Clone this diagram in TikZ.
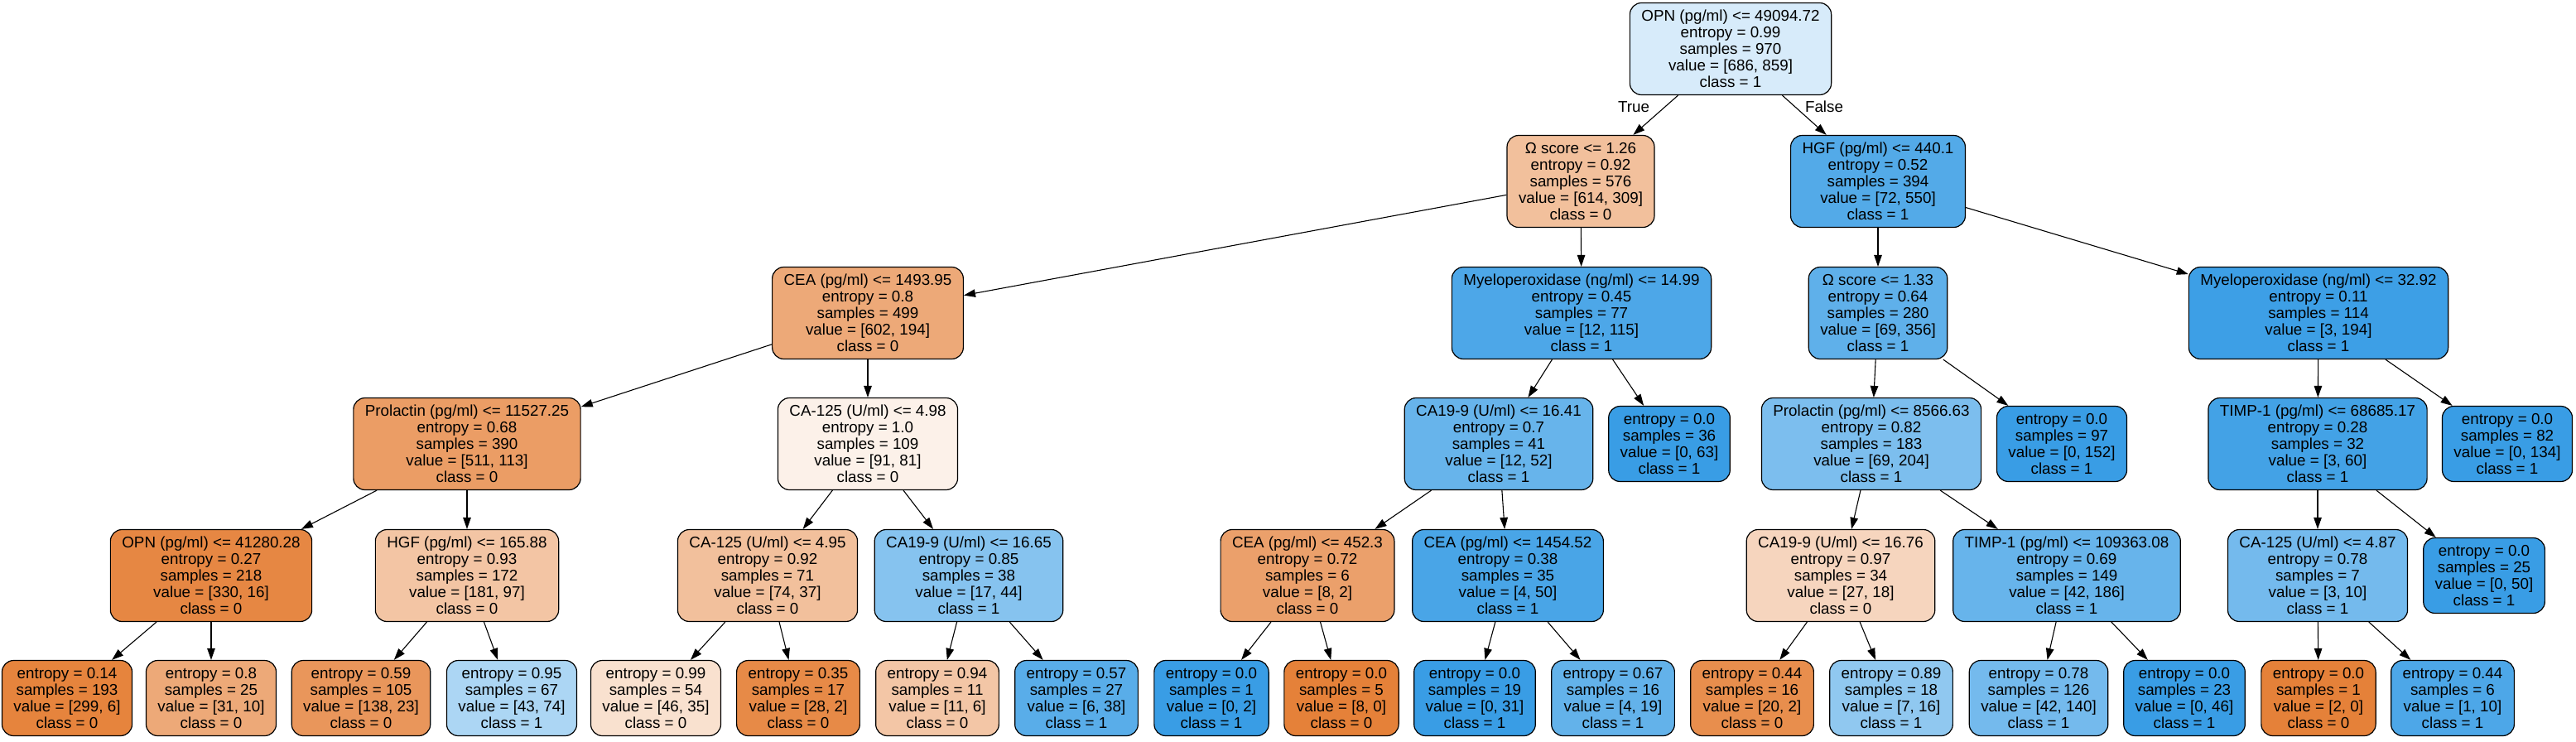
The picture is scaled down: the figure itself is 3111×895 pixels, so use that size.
\documentclass[tikz,border=0pt]{standalone}
\usepackage{fontspec}
\setmainfont{Liberation Sans}
\usetikzlibrary{arrows.meta}

\definecolor{cls0}{RGB}{229,129,57}
\definecolor{cls1}{RGB}{57,157,229}

\begin{document}
\begin{tikzpicture}[
  x=1pt, y=-1pt,
  tnode/.style={draw, line width=1.2pt, rounded corners=14pt, align=center,
    inner xsep=14pt, inner ysep=0pt, font=\fontsize{18.8}{20}\selectfont},
  split/.style={tnode, minimum height=111pt},
  leaf/.style={tnode, minimum height=91pt},
  lbl/.style={font=\fontsize{18.8}{20}\selectfont, inner sep=0pt},
  edge/.style={line width=1.1pt, -{Triangle[length=14pt, width=9.5pt]}}
]
\useasboundingbox (0,0) rectangle (3111,895);

% level 0 and 1
\node[split, fill=cls1!20] (root) at (2090,59) {OPN (pg/ml) <= 49094.72\\entropy = 0.99\\samples = 970\\value = [686, 859]\\class = 1};
\node[split, fill=cls0!50] (omegaA) at (1909,219) {Ω score <= 1.26\\entropy = 0.92\\samples = 576\\value = [614, 309]\\class = 0};
\node[split, fill=cls1!87] (hgfA) at (2268,219) {HGF (pg/ml) <= 440.1\\entropy = 0.52\\samples = 394\\value = [72, 550]\\class = 1};
\node[lbl] (truelbl) at (1973,129) {True};
\node[lbl] (falselbl) at (2203,129) {False};

% level 2
\node[split, fill=cls0!68] (ceaA) at (1048,378) {CEA (pg/ml) <= 1493.95\\entropy = 0.8\\samples = 499\\value = [602, 194]\\class = 0};
\node[split, fill=cls1!90] (myeloA) at (1910,378) {Myeloperoxidase (ng/ml) <= 14.99\\entropy = 0.45\\samples = 77\\value = [12, 115]\\class = 1};
\node[split, fill=cls1!81] (omegaB) at (2268,378) {Ω score <= 1.33\\entropy = 0.64\\samples = 280\\value = [69, 356]\\class = 1};
\node[split, fill=cls1!98] (myeloB) at (2800,378) {Myeloperoxidase (ng/ml) <= 32.92\\entropy = 0.11\\samples = 114\\value = [3, 194]\\class = 1};

% level 3
\node[split, fill=cls0!78] (prolA) at (564,536) {Prolactin (pg/ml) <= 11527.25\\entropy = 0.68\\samples = 390\\value = [511, 113]\\class = 0};
\node[split, fill=cls0!11] (caA) at (1048,536) {CA-125 (U/ml) <= 4.98\\entropy = 1.0\\samples = 109\\value = [91, 81]\\class = 0};
\node[split, fill=cls1!77] (cnA) at (1810,536) {CA19-9 (U/ml) <= 16.41\\entropy = 0.7\\samples = 41\\value = [12, 52]\\class = 1};
\node[leaf, fill=cls1] (leafA) at (2016,536) {entropy = 0.0\\samples = 36\\value = [0, 63]\\class = 1};
\node[split, fill=cls1!66] (prolB) at (2260,536) {Prolactin (pg/ml) <= 8566.63\\entropy = 0.82\\samples = 183\\value = [69, 204]\\class = 1};
\node[leaf, fill=cls1] (leafB) at (2490,536) {entropy = 0.0\\samples = 97\\value = [0, 152]\\class = 1};
\node[split, fill=cls1!95] (timpA) at (2799,536) {TIMP-1 (pg/ml) <= 68685.17\\entropy = 0.28\\samples = 32\\value = [3, 60]\\class = 1};
\node[leaf, fill=cls1] (leafC) at (3028,536) {entropy = 0.0\\samples = 82\\value = [0, 134]\\class = 1};

% level 4
\node[split, fill=cls0!95] (opnB) at (255,695) {OPN (pg/ml) <= 41280.28\\entropy = 0.27\\samples = 218\\value = [330, 16]\\class = 0};
\node[split, fill=cls0!46] (hgfB) at (564,695) {HGF (pg/ml) <= 165.88\\entropy = 0.93\\samples = 172\\value = [181, 97]\\class = 0};
\node[split, fill=cls0!50] (caB) at (927,695) {CA-125 (U/ml) <= 4.95\\entropy = 0.92\\samples = 71\\value = [74, 37]\\class = 0};
\node[split, fill=cls1!61] (cnB) at (1170,695) {CA19-9 (U/ml) <= 16.65\\entropy = 0.85\\samples = 38\\value = [17, 44]\\class = 1};
\node[split, fill=cls0!75] (ceaB) at (1579,695) {CEA (pg/ml) <= 452.3\\entropy = 0.72\\samples = 6\\value = [8, 2]\\class = 0};
\node[split, fill=cls1!92] (ceaC) at (1821,695) {CEA (pg/ml) <= 1454.52\\entropy = 0.38\\samples = 35\\value = [4, 50]\\class = 1};
\node[split, fill=cls0!33] (cnC) at (2223,695) {CA19-9 (U/ml) <= 16.76\\entropy = 0.97\\samples = 34\\value = [27, 18]\\class = 0};
\node[split, fill=cls1!77] (timpB) at (2496,695) {TIMP-1 (pg/ml) <= 109363.08\\entropy = 0.69\\samples = 149\\value = [42, 186]\\class = 1};
\node[split, fill=cls1!70] (caC) at (2799,695) {CA-125 (U/ml) <= 4.87\\entropy = 0.78\\samples = 7\\value = [3, 10]\\class = 1};
\node[leaf, fill=cls1] (leafD) at (3000,695) {entropy = 0.0\\samples = 25\\value = [0, 50]\\class = 1};

% level 5
\node[leaf, fill=cls0!98] (leaf1) at (81,843) {entropy = 0.14\\samples = 193\\value = [299, 6]\\class = 0};
\node[leaf, fill=cls0!68] (leaf2) at (255,843) {entropy = 0.8\\samples = 25\\value = [31, 10]\\class = 0};
\node[leaf, fill=cls0!83] (leaf3) at (436,843) {entropy = 0.59\\samples = 105\\value = [138, 23]\\class = 0};
\node[leaf, fill=cls1!42] (leaf4) at (618,843) {entropy = 0.95\\samples = 67\\value = [43, 74]\\class = 1};
\node[leaf, fill=cls0!24] (leaf5) at (792,843) {entropy = 0.99\\samples = 54\\value = [46, 35]\\class = 0};
\node[leaf, fill=cls0!93] (leaf6) at (964,843) {entropy = 0.35\\samples = 17\\value = [28, 2]\\class = 0};
\node[leaf, fill=cls0!45] (leaf7) at (1132,843) {entropy = 0.94\\samples = 11\\value = [11, 6]\\class = 0};
\node[leaf, fill=cls1!84] (leaf8) at (1300,843) {entropy = 0.57\\samples = 27\\value = [6, 38]\\class = 1};
\node[leaf, fill=cls1] (leaf9) at (1463,843) {entropy = 0.0\\samples = 1\\value = [0, 2]\\class = 1};
\node[leaf, fill=cls0] (leaf10) at (1620,843) {entropy = 0.0\\samples = 5\\value = [8, 0]\\class = 0};
\node[leaf, fill=cls1] (leaf11) at (1781,843) {entropy = 0.0\\samples = 19\\value = [0, 31]\\class = 1};
\node[leaf, fill=cls1!79] (leaf12) at (1948,843) {entropy = 0.67\\samples = 16\\value = [4, 19]\\class = 1};
\node[leaf, fill=cls0!90] (leaf13) at (2116,843) {entropy = 0.44\\samples = 16\\value = [20, 2]\\class = 0};
\node[leaf, fill=cls1!56] (leaf14) at (2284,843) {entropy = 0.89\\samples = 18\\value = [7, 16]\\class = 1};
\node[leaf, fill=cls1!70] (leaf15) at (2462,843) {entropy = 0.78\\samples = 126\\value = [42, 140]\\class = 1};
\node[leaf, fill=cls1] (leaf16) at (2638,843) {entropy = 0.0\\samples = 23\\value = [0, 46]\\class = 1};
\node[leaf, fill=cls0] (leaf17) at (2800,843) {entropy = 0.0\\samples = 1\\value = [2, 0]\\class = 0};
\node[leaf, fill=cls1!90] (leaf18) at (2962,843) {entropy = 0.44\\samples = 6\\value = [1, 10]\\class = 1};

\draw[edge] (root) -- (omegaA);
\draw[edge] (root) -- (hgfA);
\draw[edge] (omegaA) -- (ceaA);
\draw[edge] (omegaA) -- (myeloA);
\draw[edge] (hgfA) -- (omegaB);
\draw[edge] (hgfA) -- (myeloB);
\draw[edge] (ceaA) -- (prolA);
\draw[edge] (ceaA) -- (caA);
\draw[edge] (myeloA) -- (cnA);
\draw[edge] (myeloA) -- (leafA);
\draw[edge] (omegaB) -- (prolB);
\draw[edge] (omegaB) -- (leafB);
\draw[edge] (myeloB) -- (timpA);
\draw[edge] (myeloB) -- (leafC);
\draw[edge] (prolA) -- (opnB);
\draw[edge] (prolA) -- (hgfB);
\draw[edge] (caA) -- (caB);
\draw[edge] (caA) -- (cnB);
\draw[edge] (cnA) -- (ceaB);
\draw[edge] (cnA) -- (ceaC);
\draw[edge] (prolB) -- (cnC);
\draw[edge] (prolB) -- (timpB);
\draw[edge] (timpA) -- (caC);
\draw[edge] (timpA) -- (leafD);
\draw[edge] (opnB) -- (leaf1);
\draw[edge] (opnB) -- (leaf2);
\draw[edge] (hgfB) -- (leaf3);
\draw[edge] (hgfB) -- (leaf4);
\draw[edge] (caB) -- (leaf5);
\draw[edge] (caB) -- (leaf6);
\draw[edge] (cnB) -- (leaf7);
\draw[edge] (cnB) -- (leaf8);
\draw[edge] (ceaB) -- (leaf9);
\draw[edge] (ceaB) -- (leaf10);
\draw[edge] (ceaC) -- (leaf11);
\draw[edge] (ceaC) -- (leaf12);
\draw[edge] (cnC) -- (leaf13);
\draw[edge] (cnC) -- (leaf14);
\draw[edge] (timpB) -- (leaf15);
\draw[edge] (timpB) -- (leaf16);
\draw[edge] (caC) -- (leaf17);
\draw[edge] (caC) -- (leaf18);

\end{tikzpicture}
\end{document}
